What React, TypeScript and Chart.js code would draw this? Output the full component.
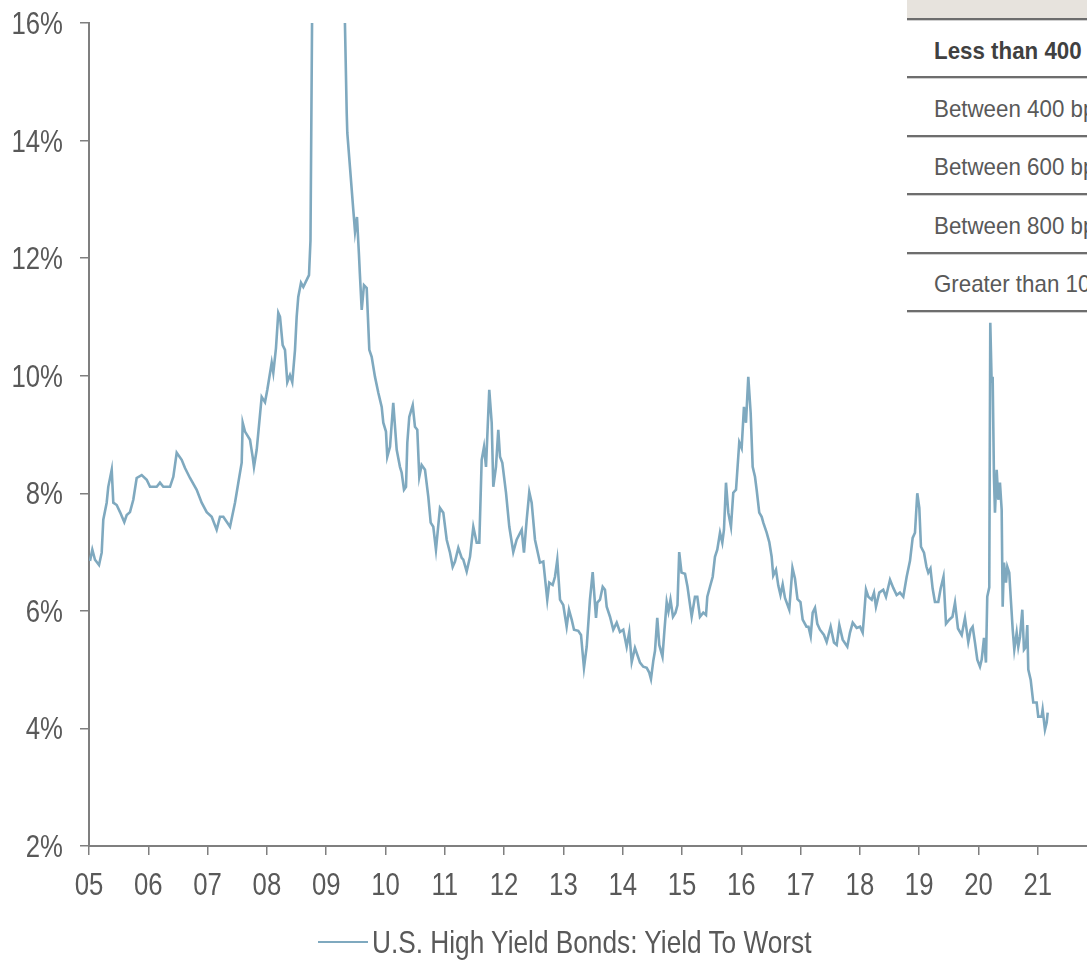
import React, { useEffect, useRef } from "react";
import { Chart, registerables } from "chart.js";

Chart.register(...registerables);

const FONT = '"Liberation Sans", Arial, sans-serif';
const LINE_COLOR = "#7fa9bf";
const AXIS_COLOR = "#7f7f7f";
const LABEL_COLOR = "#595959";

const SERIES_LABEL = "U.S. High Yield Bonds: Yield To Worst";

// Yield to worst, %, sampled through time (decimal years)
const t05_08 = [
  2005.017, 2005.056, 2005.101, 2005.169, 2005.214, 2005.241, 2005.298, 2005.325, 2005.383, 2005.41,
  2005.467, 2005.523, 2005.595, 2005.636, 2005.691, 2005.747, 2005.804, 2005.889, 2005.973, 2006.029,
  2006.142, 2006.197, 2006.253, 2006.366, 2006.422, 2006.479, 2006.563, 2006.619, 2006.703, 2006.816,
  2006.9, 2006.985, 2007.069, 2007.153, 2007.209, 2007.265, 2007.378, 2007.462, 2007.518, 2007.575,
  2007.592, 2007.631, 2007.715, 2007.76, 2007.782, 2007.828, 2007.912, 2007.968, 2008.007, 2008.081,
  2008.108, 2008.153, 2008.192, 2008.221, 2008.266, 2008.305, 2008.344, 2008.389, 2008.428, 2008.474,
  2008.502, 2008.529, 2008.575, 2008.614, 2008.671, 2008.71, 2008.735,
];
const ytw05_08 = [
  6.85, 7.04, 6.87, 6.78, 6.99, 7.55, 7.84, 8.11, 8.4, 7.84,
  7.8, 7.68, 7.51, 7.63, 7.68, 7.89, 8.26, 8.31, 8.23, 8.11,
  8.11, 8.18, 8.11, 8.11, 8.28, 8.69, 8.57, 8.43, 8.26, 8.06,
  7.84, 7.68, 7.6, 7.38, 7.6, 7.6, 7.43, 7.84, 8.18, 8.52,
  9.2, 9.05, 8.91, 8.62, 8.45, 8.74, 9.64, 9.55, 9.76, 10.22,
  10.05, 10.47, 11.07, 11.0, 10.52, 10.44, 9.89, 10.01, 9.89, 10.44,
  11.0, 11.34, 11.58, 11.51, 11.63, 11.71, 12.3,
];

const t08_09 = [
  2008.77, 2008.8, 2008.84, 2008.88, 2008.92, 2008.96, 2009.0, 2009.04, 2009.08, 2009.12,
  2009.16, 2009.2, 2009.24, 2009.28, 2009.31,
];
const ytw08_09 = [
  17.2, 18.6, 19.9, 19.4, 21.3, 22.6, 21.0, 19.6, 18.6, 19.3,
  20.2, 19.6, 18.0, 17.2, 16.3,
];

const t09_12 = [
  2009.346, 2009.356, 2009.401, 2009.457, 2009.486, 2009.519, 2009.553, 2009.567, 2009.599, 2009.637,
  2009.683, 2009.727, 2009.767, 2009.823, 2009.879, 2009.936, 2009.963, 2010.008, 2010.03, 2010.076,
  2010.131, 2010.189, 2010.244, 2010.273, 2010.312, 2010.346, 2010.368, 2010.401, 2010.459, 2010.497,
  2010.536, 2010.57, 2010.61, 2010.666, 2010.722, 2010.762, 2010.806, 2010.851, 2010.919, 2010.975,
  2011.032, 2011.088, 2011.133, 2011.172, 2011.228, 2011.285, 2011.312, 2011.369, 2011.425, 2011.481,
  2011.538, 2011.582, 2011.622, 2011.661, 2011.695, 2011.75, 2011.791, 2011.818, 2011.863, 2011.902,
  2011.931, 2011.97, 2012.032, 2012.088, 2012.155, 2012.212, 2012.297, 2012.335, 2012.381, 2012.425,
  2012.465, 2012.521, 2012.605, 2012.661, 2012.728, 2012.762, 2012.819, 2012.858, 2012.897, 2012.943,
  2012.998,
];
const ytw09_12 = [
  14.47, 14.13, 13.55, 12.82, 12.45, 12.7, 12.05, 11.75, 11.12, 11.54,
  11.49, 10.44, 10.32, 9.98, 9.71, 9.47, 9.2, 9.05, 8.62, 8.79,
  9.54, 8.74, 8.45, 8.35, 8.06, 8.11, 8.86, 9.3, 9.5, 9.13,
  9.08, 8.28, 8.48, 8.4, 7.94, 7.5, 7.43, 7.04, 7.75, 7.67,
  7.21, 6.99, 6.75, 6.84, 7.07, 6.9, 6.87, 6.67, 6.92, 7.43,
  7.16, 7.16, 8.57, 8.79, 8.45, 9.76, 9.2, 8.11, 8.45, 9.08,
  8.62, 8.52, 8.01, 7.43, 7.0, 7.21, 7.38, 6.99, 7.55, 8.02,
  7.84, 7.21, 6.82, 6.84, 6.19, 6.48, 6.44, 6.58, 6.87, 6.19,
  6.1,
];

const t13_15 = [
  2013.055, 2013.094, 2013.14, 2013.179, 2013.251, 2013.297, 2013.347, 2013.393, 2013.448, 2013.494,
  2013.55, 2013.572, 2013.617, 2013.663, 2013.701, 2013.73, 2013.786, 2013.841, 2013.899, 2013.954,
  2014.01, 2014.067, 2014.111, 2014.152, 2014.207, 2014.292, 2014.347, 2014.405, 2014.448, 2014.477,
  2014.516, 2014.545, 2014.583, 2014.617, 2014.671, 2014.705, 2014.742, 2014.772, 2014.806, 2014.848,
  2014.89, 2014.924, 2014.953, 2014.992, 2015.051, 2015.093, 2015.123, 2015.163, 2015.219, 2015.258,
  2015.303, 2015.359, 2015.405, 2015.427, 2015.472, 2015.518, 2015.556, 2015.595, 2015.641, 2015.68,
  2015.708, 2015.742, 2015.781, 2015.826, 2015.865, 2015.911, 2015.966,
];
const ytw13_15 = [
  5.73, 6.02, 5.85, 5.68, 5.66, 5.59, 5.03, 5.39, 6.19, 6.66,
  5.88, 6.14, 6.19, 6.41, 6.36, 6.07, 5.9, 5.68, 5.8, 5.64,
  5.68, 5.39, 5.64, 5.13, 5.37, 5.12, 5.05, 5.03, 4.95, 4.84,
  5.15, 5.32, 5.88, 5.42, 5.22, 5.68, 6.15, 5.99, 6.19, 5.9,
  5.97, 6.1, 7.0, 6.65, 6.63, 6.41, 6.19, 5.9, 6.24, 6.24,
  5.9, 5.97, 5.93, 6.24, 6.41, 6.58, 6.92, 7.04, 7.33, 7.16,
  7.38, 8.18, 7.67, 7.43, 8.01, 8.06, 8.87,
];

const t16_18 = [
  2016.006, 2016.045, 2016.079, 2016.118, 2016.158, 2016.192, 2016.231, 2016.259, 2016.303, 2016.344,
  2016.371, 2016.428, 2016.472, 2016.512, 2016.539, 2016.585, 2016.624, 2016.661, 2016.698, 2016.737,
  2016.809, 2016.863, 2016.905, 2016.948, 2016.998, 2017.035, 2017.099, 2017.133, 2017.17, 2017.204,
  2017.243, 2017.282, 2017.327, 2017.394, 2017.44, 2017.507, 2017.563, 2017.609, 2017.653, 2017.71,
  2017.788, 2017.833, 2017.879, 2017.946, 2018.002, 2018.047, 2018.069, 2018.103, 2018.142, 2018.199,
  2018.238, 2018.271, 2018.327, 2018.394, 2018.44, 2018.508, 2018.563, 2018.62, 2018.676, 2018.732,
  2018.789, 2018.845, 2018.89, 2018.929, 2018.968,
];
const ytw16_18 = [
  8.77, 9.47, 9.2, 9.98, 9.37, 8.45, 8.28, 8.06, 7.67, 7.6,
  7.5, 7.33, 7.17, 6.92, 6.6, 6.7, 6.43, 6.27, 6.45, 6.22,
  6.02, 6.73, 6.55, 6.2, 6.15, 5.85, 5.73, 5.73, 5.57, 5.97,
  6.05, 5.78, 5.68, 5.59, 5.47, 5.73, 5.46, 5.42, 5.76, 5.51,
  5.39, 5.63, 5.8, 5.71, 5.73, 5.63, 5.9, 6.36, 6.24, 6.19,
  6.31, 6.07, 6.31, 6.36, 6.24, 6.53, 6.39, 6.27, 6.31, 6.24,
  6.58, 6.85, 7.24, 7.33, 8.0,
];

const t19_21 = [
  2019.002, 2019.03, 2019.081, 2019.123, 2019.153, 2019.19, 2019.227, 2019.266, 2019.322, 2019.362,
  2019.41, 2019.452, 2019.507, 2019.561, 2019.604, 2019.654, 2019.717, 2019.772, 2019.828, 2019.868,
  2019.902, 2019.941, 2019.98, 2020.025, 2020.054, 2020.093, 2020.126, 2020.148, 2020.182, 2020.199,
  2020.222, 2020.239, 2020.261, 2020.278, 2020.307, 2020.334, 2020.362, 2020.391, 2020.408, 2020.43,
  2020.464, 2020.486, 2020.519, 2020.543, 2020.577, 2020.604, 2020.644, 2020.671, 2020.7, 2020.739,
  2020.767, 2020.801, 2020.823, 2020.84, 2020.88, 2020.924, 2020.981, 2021.008, 2021.065, 2021.082,
  2021.121, 2021.15, 2021.167,
];
const ytw19_21 = [
  7.75, 7.09, 6.99, 6.75, 6.65, 6.72, 6.38, 6.15, 6.15, 6.38,
  6.58, 5.78, 5.85, 5.9, 6.14, 5.7, 5.59, 5.88, 5.47, 5.68,
  5.73, 5.46, 5.17, 5.05, 5.17, 5.54, 5.12, 6.24, 6.4, 10.9,
  9.88, 9.98, 8.28, 7.67, 8.4, 7.89, 8.18, 7.72, 6.07, 6.82,
  6.48, 6.75, 6.65, 6.24, 5.68, 5.34, 5.63, 5.39, 5.56, 6.02,
  5.34, 5.39, 5.76, 5.0, 4.83, 4.44, 4.44, 4.2, 4.2, 4.32,
  3.98, 4.1, 4.27,
];

// Axis ticks
const yearTicks = [
  2005, 2006, 2007, 2008, 2009, 2010, 2011, 2012, 2013, 2014, 2015, 2016, 2017, 2018, 2019, 2020, 2021,
];
const yearLabels = [
  "05", "06", "07", "08", "09", "10", "11", "12", "13", "14", "15", "16", "17", "18", "19", "20", "21",
];
const yieldTicks = [2, 4, 6, 8, 10, 12, 14, 16];

// Spread buckets listed in the table at the top right
const spreadBuckets = [
  "Less than 400 bps",
  "Between 400 bps and 600 bps",
  "Between 600 bps and 800 bps",
  "Between 800 bps and 1000 bps",
  "Greater than 1000 bps",
];

const segments: [number[], number[]][] = [
  [t05_08, ytw05_08],
  [t08_09, ytw08_09],
  [t09_12, ytw09_12],
  [t13_15, ytw13_15],
  [t16_18, ytw16_18],
  [t19_21, ytw19_21],
];

function buildPoints() {
  const pts: { x: number; y: number }[] = [];
  for (const [ts, vs] of segments) {
    ts.forEach((t, i) => pts.push({ x: t, y: vs[i] }));
  }
  return pts;
}

const W = 1087;
const H = 961;

// Tick labels are set in a condensed face: the regular sans squeezed horizontally.
const TICK_FONT_SIZE = 31;
const TICK_SQUEEZE = 0.83;

function squeezedText(ctx: CanvasRenderingContext2D, text: string, x: number, y: number, align: CanvasTextAlign) {
  ctx.save();
  ctx.translate(x, y);
  ctx.scale(TICK_SQUEEZE, 1);
  ctx.textAlign = align;
  ctx.textBaseline = "alphabetic";
  ctx.fillText(text, 0, 0);
  ctx.restore();
}

const condensedTickLabels = {
  id: "condensedTickLabels",
  afterDraw(chart: any) {
    const { ctx, chartArea } = chart;
    const xs = chart.scales.x;
    const ys = chart.scales.y;
    ctx.save();
    ctx.font = `${TICK_FONT_SIZE}px ${FONT}`;
    ctx.fillStyle = LABEL_COLOR;
    yieldTicks.forEach((v) => {
      squeezedText(ctx, `${v}%`, chartArea.left - 26, ys.getPixelForValue(v) + 11, "right");
    });
    yearTicks.forEach((v, i) => {
      squeezedText(ctx, yearLabels[i], xs.getPixelForValue(v), chartArea.bottom + 49, "center");
    });
    ctx.restore();
  },
};

export default function App() {
  const canvasRef = useRef<HTMLCanvasElement | null>(null);

  useEffect(() => {
    const canvas = canvasRef.current;
    if (!canvas) return;
    const axisGrid = {
      display: true,
      drawOnChartArea: false,
      drawTicks: true,
      tickLength: 9,
      color: AXIS_COLOR,
      lineWidth: 1.5,
    };
    const chart = new Chart(canvas, {
      type: "line",
      data: {
        datasets: [
          {
            label: SERIES_LABEL,
            data: buildPoints(),
            borderColor: LINE_COLOR,
            backgroundColor: LINE_COLOR,
            borderWidth: 2.6,
            pointRadius: 0,
            tension: 0,
            fill: false,
            clip: 0,
          },
        ],
      },
      options: {
        animation: false,
        responsive: false,
        devicePixelRatio: 1,
        layout: { padding: { top: 23, left: 0, right: 0, bottom: 0 } },
        plugins: {
          legend: { display: false },
          tooltip: { enabled: false },
        },
        scales: {
          x: {
            type: "linear",
            min: 2005,
            max: 2021.83,
            afterBuildTicks: (scale: any) => {
              scale.ticks = yearTicks.map((v) => ({ value: v }));
            },
            afterFit: (scale: any) => {
              scale.height = 115;
            },
            grid: axisGrid,
            border: { display: true, color: AXIS_COLOR, width: 2 },
            ticks: { display: false, autoSkip: false, maxRotation: 0 },
          },
          y: {
            type: "linear",
            min: 2,
            max: 16,
            afterBuildTicks: (scale: any) => {
              scale.ticks = yieldTicks.map((v) => ({ value: v }));
            },
            afterFit: (scale: any) => {
              scale.width = 89;
            },
            grid: axisGrid,
            border: { display: true, color: AXIS_COLOR, width: 2 },
            ticks: { display: false },
          },
        },
      },
      plugins: [condensedTickLabels],
    });
    return () => chart.destroy();
  }, []);

  return (
    <div
      style={{
        position: "absolute",
        left: 0,
        top: 0,
        width: W,
        height: H,
        overflow: "hidden",
        background: "#ffffff",
        fontFamily: FONT,
      }}
    >
      <canvas ref={canvasRef} width={W} height={H} style={{ display: "block", width: W, height: H }} />

      {/* bucket table, cut off by the right edge */}
      <div
        style={{
          position: "absolute",
          left: 907,
          top: 0,
          width: W - 907,
          height: 316,
          overflow: "hidden",
          background: "#ffffff",
        }}
      >
        <div style={{ width: 420 }}>
          <div
            style={{
              height: 20,
              boxSizing: "border-box",
              background: "#e7e3dd",
              borderBottom: "2px solid #6d6d6d",
              boxShadow: "0 1px 0 #cfcfcf",
            }}
          />
          {spreadBuckets.map((b, i) => (
            <div
              key={b}
              style={{
                height: 58.4,
                boxSizing: "border-box",
                borderBottom: "2px solid #6d6d6d",
                boxShadow: "0 1px 0 #cfcfcf",
                display: "flex",
                alignItems: "center",
                paddingLeft: 27,
                paddingTop: 5,
                whiteSpace: "nowrap",
              }}
            >
              <span
                style={{
                  display: "inline-block",
                  transform: "scaleX(0.93)",
                  transformOrigin: "left center",
                  fontSize: 24,
                  fontWeight: i === 0 ? 700 : 400,
                  color: i === 0 ? "#404040" : LABEL_COLOR,
                }}
              >
                {b}
              </span>
            </div>
          ))}
        </div>
      </div>

      {/* legend */}
      <div
        style={{
          position: "absolute",
          left: 318,
          top: 923,
          height: 38,
          display: "flex",
          alignItems: "center",
          whiteSpace: "nowrap",
          color: LABEL_COLOR,
        }}
      >
        <span style={{ display: "inline-block", width: 50, height: 2.5, background: LINE_COLOR, marginRight: 4 }} />
        <span
          style={{
            display: "inline-block",
            fontSize: 32,
            lineHeight: "38px",
            transform: "scaleX(0.82)",
            transformOrigin: "left center",
          }}
        >
          {SERIES_LABEL}
        </span>
      </div>
    </div>
  );
}
